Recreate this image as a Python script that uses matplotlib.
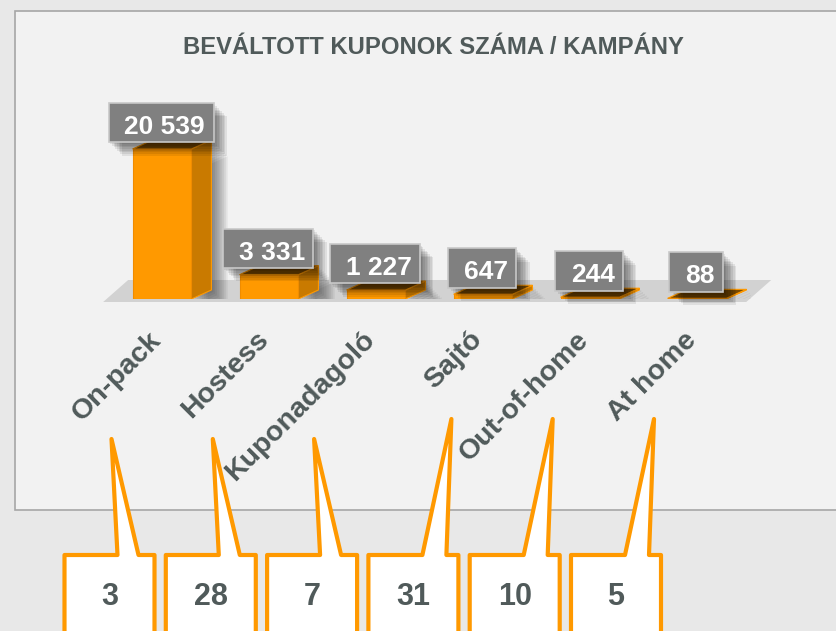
import matplotlib
matplotlib.use("Agg")
import matplotlib.pyplot as plt
import matplotlib.patheffects as pe
from matplotlib.patches import Polygon, Rectangle
from matplotlib.path import Path
from matplotlib.transforms import ScaledTranslation
import numpy as np

plt.rcParams['font.family'] = ['Liberation Sans', 'DejaVu Sans']

title = "BEVÁLTOTT KUPONOK SZÁMA / KAMPÁNY"
campaigns = ["On-pack", "Hostess", "Kuponadagoló", "Sajtó", "Out-of-home", "At home"]
coupons = [20539, 3331, 1227, 647, 244, 88]
callout_values = [3, 28, 7, 31, 10, 5]

W, H = 836, 631
ORANGE = '#ff9900'
SIDE = '#c97a00'
TOP = '#7a4a00'
TEXT = '#505a5a'


def soft_shadow(n=6, step=1.2, alpha=0.05):
    # stacked offsets fake a blurred drop shadow
    fx = [pe.SimplePatchShadow(offset=(step*k, -step*k), shadow_rgbFace='black', alpha=alpha) for k in range(1, n+1)]
    return fx + [pe.Normal()]


def label_box(x0, y0, width, height, mutation_size):
    l, r = 0.6*mutation_size, 0.32*mutation_size
    b, t = 0.13*mutation_size, 0.45*mutation_size
    verts = [(x0-l, y0-b), (x0+width+r, y0-b), (x0+width+r, y0+height+t), (x0-l, y0+height+t), (x0-l, y0-b)]
    return Path(verts, closed=True)


fig = plt.figure(figsize=(W/100, H/100), dpi=100, facecolor='#e8e8e8')

# pixel-space background: panel, title, callouts
bg = fig.add_axes([0, 0, 1, 1], zorder=0)
bg.set_xlim(0, W)
bg.set_ylim(H, 0)
bg.axis('off')
bg.add_patch(Rectangle((15, 11), W, 499, facecolor='#f2f2f2', edgecolor='#a6a6a6', lw=1.2, zorder=1))
bg.text(433, 54, title, ha='center', va='baseline', fontsize=17.2, fontweight='bold', color=TEXT)

for i, val in enumerate(callout_values):
    c = 109.5 + 101.3*i
    left, right, top, bottom = c - 45, c + 45, 555, H + 30
    if i < 3:
        bl, br, tip = c + 8, c + 29, (c + 2, 439)
    else:
        bl, br, tip = c + 9, c + 33, (c + 38, 419)
    bg.add_patch(Polygon([(left, bottom), (left, top), (bl, top), tip, (br, top), (right, top), (right, bottom)],
                         closed=True, facecolor='white', edgecolor=ORANGE, lw=3, joinstyle='round', zorder=2))
    bg.text(c, 605, str(val), ha='center', va='baseline', fontsize=22, fontweight='bold', color=TEXT, zorder=3)

# bar chart axes
ymax = 25000
ax = fig.add_axes([108.5/W, (H - 299)/H, 642/W, ymax*150/20539/H], zorder=1)
ax.set_xlim(-0.5, 5.5)
ax.set_ylim(0, ymax)
ax.patch.set_visible(False)
for s in ax.spines.values():
    s.set_visible(False)

x = np.arange(len(campaigns))
x_pp = ax.transData.transform((1, 0))[0] - ax.transData.transform((0, 0))[0]
y_pp = (ax.transData.transform((0, 1000))[1] - ax.transData.transform((0, 0))[1]) / 1000


def depth(dx, dy):
    return dx / x_pp, dy / y_pp


# floor
fdx, fdy = depth(25, 22)
f0 = -3 / y_pp
ax.add_patch(Polygon([(-0.55, f0), (5.46, f0), (5.46 + fdx, f0 + fdy), (-0.55 + fdx, f0 + fdy)],
                     closed=True, facecolor='#d2d2d2', edgecolor='none', zorder=1, clip_on=False))

bw = 0.55
bdx, bdy = depth(20, 9)
for xi, v in zip(x, coupons):
    l, r = xi - bw/2, xi + bw/2
    # clipped to the axes so the shadow stops at the floor's front edge
    side = Polygon([(r, 0), (r + bdx, bdy), (r + bdx, v + bdy), (r, v)], closed=True,
                   facecolor=SIDE, edgecolor=ORANGE, lw=0.8, zorder=2)
    side.set_path_effects(soft_shadow(n=9, step=1.3, alpha=0.06))
    ax.add_patch(side)
    ax.add_patch(Polygon([(l, v), (r, v), (r + bdx, v + bdy), (l + bdx, v + bdy)], closed=True,
                         facecolor=TOP, edgecolor=ORANGE, lw=0.8, zorder=3))
ax.bar(x, coupons, width=bw, color=ORANGE, edgecolor='#f08c00', lw=0.8, zorder=3)

for xi, v in zip(x, coupons):
    t = ax.annotate(f"{v:,}".replace(",", " "), xy=(xi, v), xytext=(2.75, 10), textcoords='offset pixels',
                    ha='center', va='bottom', fontsize=19, fontweight='bold', color='white',
                    bbox=dict(boxstyle=label_box, facecolor='#808080', edgecolor='#c8c8c8', lw=1.2),
                    zorder=5, annotation_clip=False)
    t.get_bbox_patch().set_path_effects(soft_shadow(n=8, step=1.2, alpha=0.08))

ax.set_yticks([])
ax.set_xticks(x)
ax.set_xticklabels(campaigns, rotation=45, ha='right', rotation_mode='anchor',
                   fontsize=20.5, fontweight='bold', color=TEXT)
ax.tick_params(axis='x', length=0, pad=20)
shift = ScaledTranslation(-14/100, 0, fig.dpi_scale_trans)
for lab in ax.get_xticklabels():
    lab.set_transform(lab.get_transform() + shift)

fig.savefig("out.png", dpi=100, facecolor=fig.get_facecolor())
